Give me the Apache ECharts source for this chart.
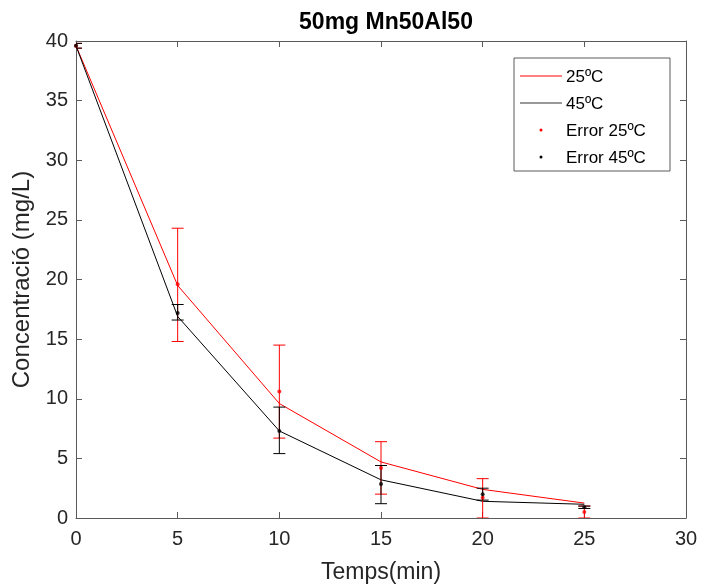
<!DOCTYPE html>
<html>
<head>
<meta charset="utf-8">
<script src="https://cdn.jsdelivr.net/npm/echarts@6/dist/echarts.min.js"></script>
<style>html,body{margin:0;padding:0;background:#fff}#c{width:704px;height:586px}</style>
</head>
<body>
<div id="c"></div>
<script>
var times = [0, 5, 10, 15, 20, 25];
var line25 = [39.6, 19.5, 9.6, 4.7, 2.4, 1.25];
var line45 = [39.6, 16.9, 7.3, 3.2, 1.4, 1.15];
var mean25 = [39.6, 19.6, 10.6, 4.2, 1.7, 0.5];
var low25 = [39.4, 14.8, 6.7, 2.0, 0.0, 0.0];
var high25 = [39.8, 24.3, 14.5, 6.4, 3.3, 1.0];
var mean45 = [39.6, 17.2, 7.3, 2.85, 2.0, 0.9];
var low45 = [39.4, 16.6, 5.4, 1.2, 1.5, 0.8];
var high45 = [39.8, 17.9, 9.3, 4.4, 2.5, 1.0];
var xTicks = [0, 5, 10, 15, 20, 25, 30];
var yTicks = [0, 5, 10, 15, 20, 25, 30, 35, 40];
var legendNames = ['25ºC', '45ºC', 'Error 25ºC', 'Error 45ºC'];

var FONT = 'Liberation Sans, Arial, Helvetica, sans-serif';
var AX = '#5a5a5a';
function pairs(xs, ys) { return xs.map(function (x, i) { return [x, ys[i]]; }); }
function triples(xs, lo, hi) { return xs.map(function (x, i) { return [x, lo[i], hi[i]]; }); }

function errRender(color) {
  return function (params, api) {
    var x = api.value(0), lo = api.value(1), hi = api.value(2);
    var pl = api.coord([x, lo]), ph = api.coord([x, hi]);
    var w = 6;
    var st = { stroke: color, lineWidth: 1 };
    return {
      type: 'group',
      children: [
        { type: 'line', shape: { x1: pl[0], y1: pl[1], x2: ph[0], y2: ph[1] }, style: st },
        { type: 'line', shape: { x1: pl[0] - w, y1: pl[1], x2: pl[0] + w, y2: pl[1] }, style: st },
        { type: 'line', shape: { x1: ph[0] - w, y1: ph[1], x2: ph[0] + w, y2: ph[1] }, style: st }
      ]
    };
  };
}

var chart = echarts.init(document.getElementById('c'), null, { renderer: 'canvas' });
function axisCommon() {
  return {
    min: 0, interval: 5,
    axisLine: { show: true, onZero: false, lineStyle: { color: AX, width: 1 } },
    axisTick: { show: true, inside: true, length: 6, lineStyle: { color: AX } },
    splitLine: { show: false }
  };
}
var legendX = 514, legendY = 58;
var rowY = [76, 103, 130, 157];
var legendGraphic = [
  { type: 'rect', shape: { x: legendX, y: legendY, width: 156, height: 113 }, style: { fill: '#fff', stroke: AX, lineWidth: 1 }, z: 100 },
  { type: 'line', shape: { x1: 520, y1: rowY[0], x2: 562, y2: rowY[0] }, style: { stroke: '#ff0000', lineWidth: 1 }, z: 101 },
  { type: 'line', shape: { x1: 520, y1: rowY[1], x2: 562, y2: rowY[1] }, style: { stroke: '#333', lineWidth: 1 }, z: 101 },
  { type: 'circle', shape: { cx: 541, cy: rowY[2], r: 1.5 }, style: { fill: '#ff0000' }, z: 101 },
  { type: 'circle', shape: { cx: 541, cy: rowY[3], r: 1.5 }, style: { fill: '#000' }, z: 101 }
];
legendNames.forEach(function (n, i) {
  legendGraphic.push({ type: 'text', x: 566, y: rowY[i] + 1, style: { text: n, font: '17px ' + FONT, fill: '#000', verticalAlign: 'middle', align: 'left' }, z: 101 });
});

chart.setOption({
  animation: false,
  backgroundColor: '#fff',
  title: {
    text: '50mg Mn50Al50', left: 381, top: 6, textAlign: 'center',
    textStyle: { fontFamily: FONT, fontSize: 23, fontWeight: 'bold', color: '#000' }
  },
  grid: { left: 76, right: 18, top: 41, bottom: 68, containLabel: false, outerBoundsMode: 'none' },
  xAxis: [
    Object.assign(axisCommon(), {
      type: 'value', max: 30, position: 'bottom',
      name: 'Temps(min)', nameLocation: 'middle', nameGap: 43,
      nameTextStyle: { fontFamily: FONT, fontSize: 23, color: '#262626' },
      axisLabel: { fontFamily: FONT, fontSize: 20, color: '#262626', margin: 11 }
    }),
    Object.assign(axisCommon(), { type: 'value', max: 30, position: 'top', axisLabel: { show: false } })
  ],
  yAxis: [
    Object.assign(axisCommon(), {
      type: 'value', max: 40, position: 'left',
      name: 'Concentració (mg/L)', nameLocation: 'middle', nameGap: 39,
      nameTextStyle: { fontFamily: FONT, fontSize: 24, color: '#262626' },
      axisLabel: { fontFamily: FONT, fontSize: 20, color: '#262626', margin: 8 }
    }),
    Object.assign(axisCommon(), { type: 'value', max: 40, position: 'right', axisLabel: { show: false } })
  ],
  series: [
    { name: legendNames[0], type: 'line', data: pairs(times, line25), symbol: 'none', lineStyle: { color: '#ff0000', width: 1 }, itemStyle: { color: '#ff0000' }, z: 3 },
    { name: legendNames[1], type: 'line', data: pairs(times, line45), symbol: 'none', lineStyle: { color: '#000', width: 1 }, itemStyle: { color: '#000' }, z: 3 },
    { type: 'custom', renderItem: errRender('#ff0000'), data: triples(times, low25, high25), encode: { x: 0, y: [1, 2] }, z: 4, clip: true },
    { type: 'custom', renderItem: errRender('#000'), data: triples(times, low45, high45), encode: { x: 0, y: [1, 2] }, z: 5, clip: true },
    { name: legendNames[2], type: 'scatter', data: pairs(times, mean25), symbol: 'circle', symbolSize: 4, itemStyle: { color: '#ff0000' }, z: 6 },
    { name: legendNames[3], type: 'scatter', data: pairs(times, mean45), symbol: 'circle', symbolSize: 4, itemStyle: { color: '#000' }, z: 7 }
  ],
  graphic: legendGraphic
});
</script>
</body>
</html>
